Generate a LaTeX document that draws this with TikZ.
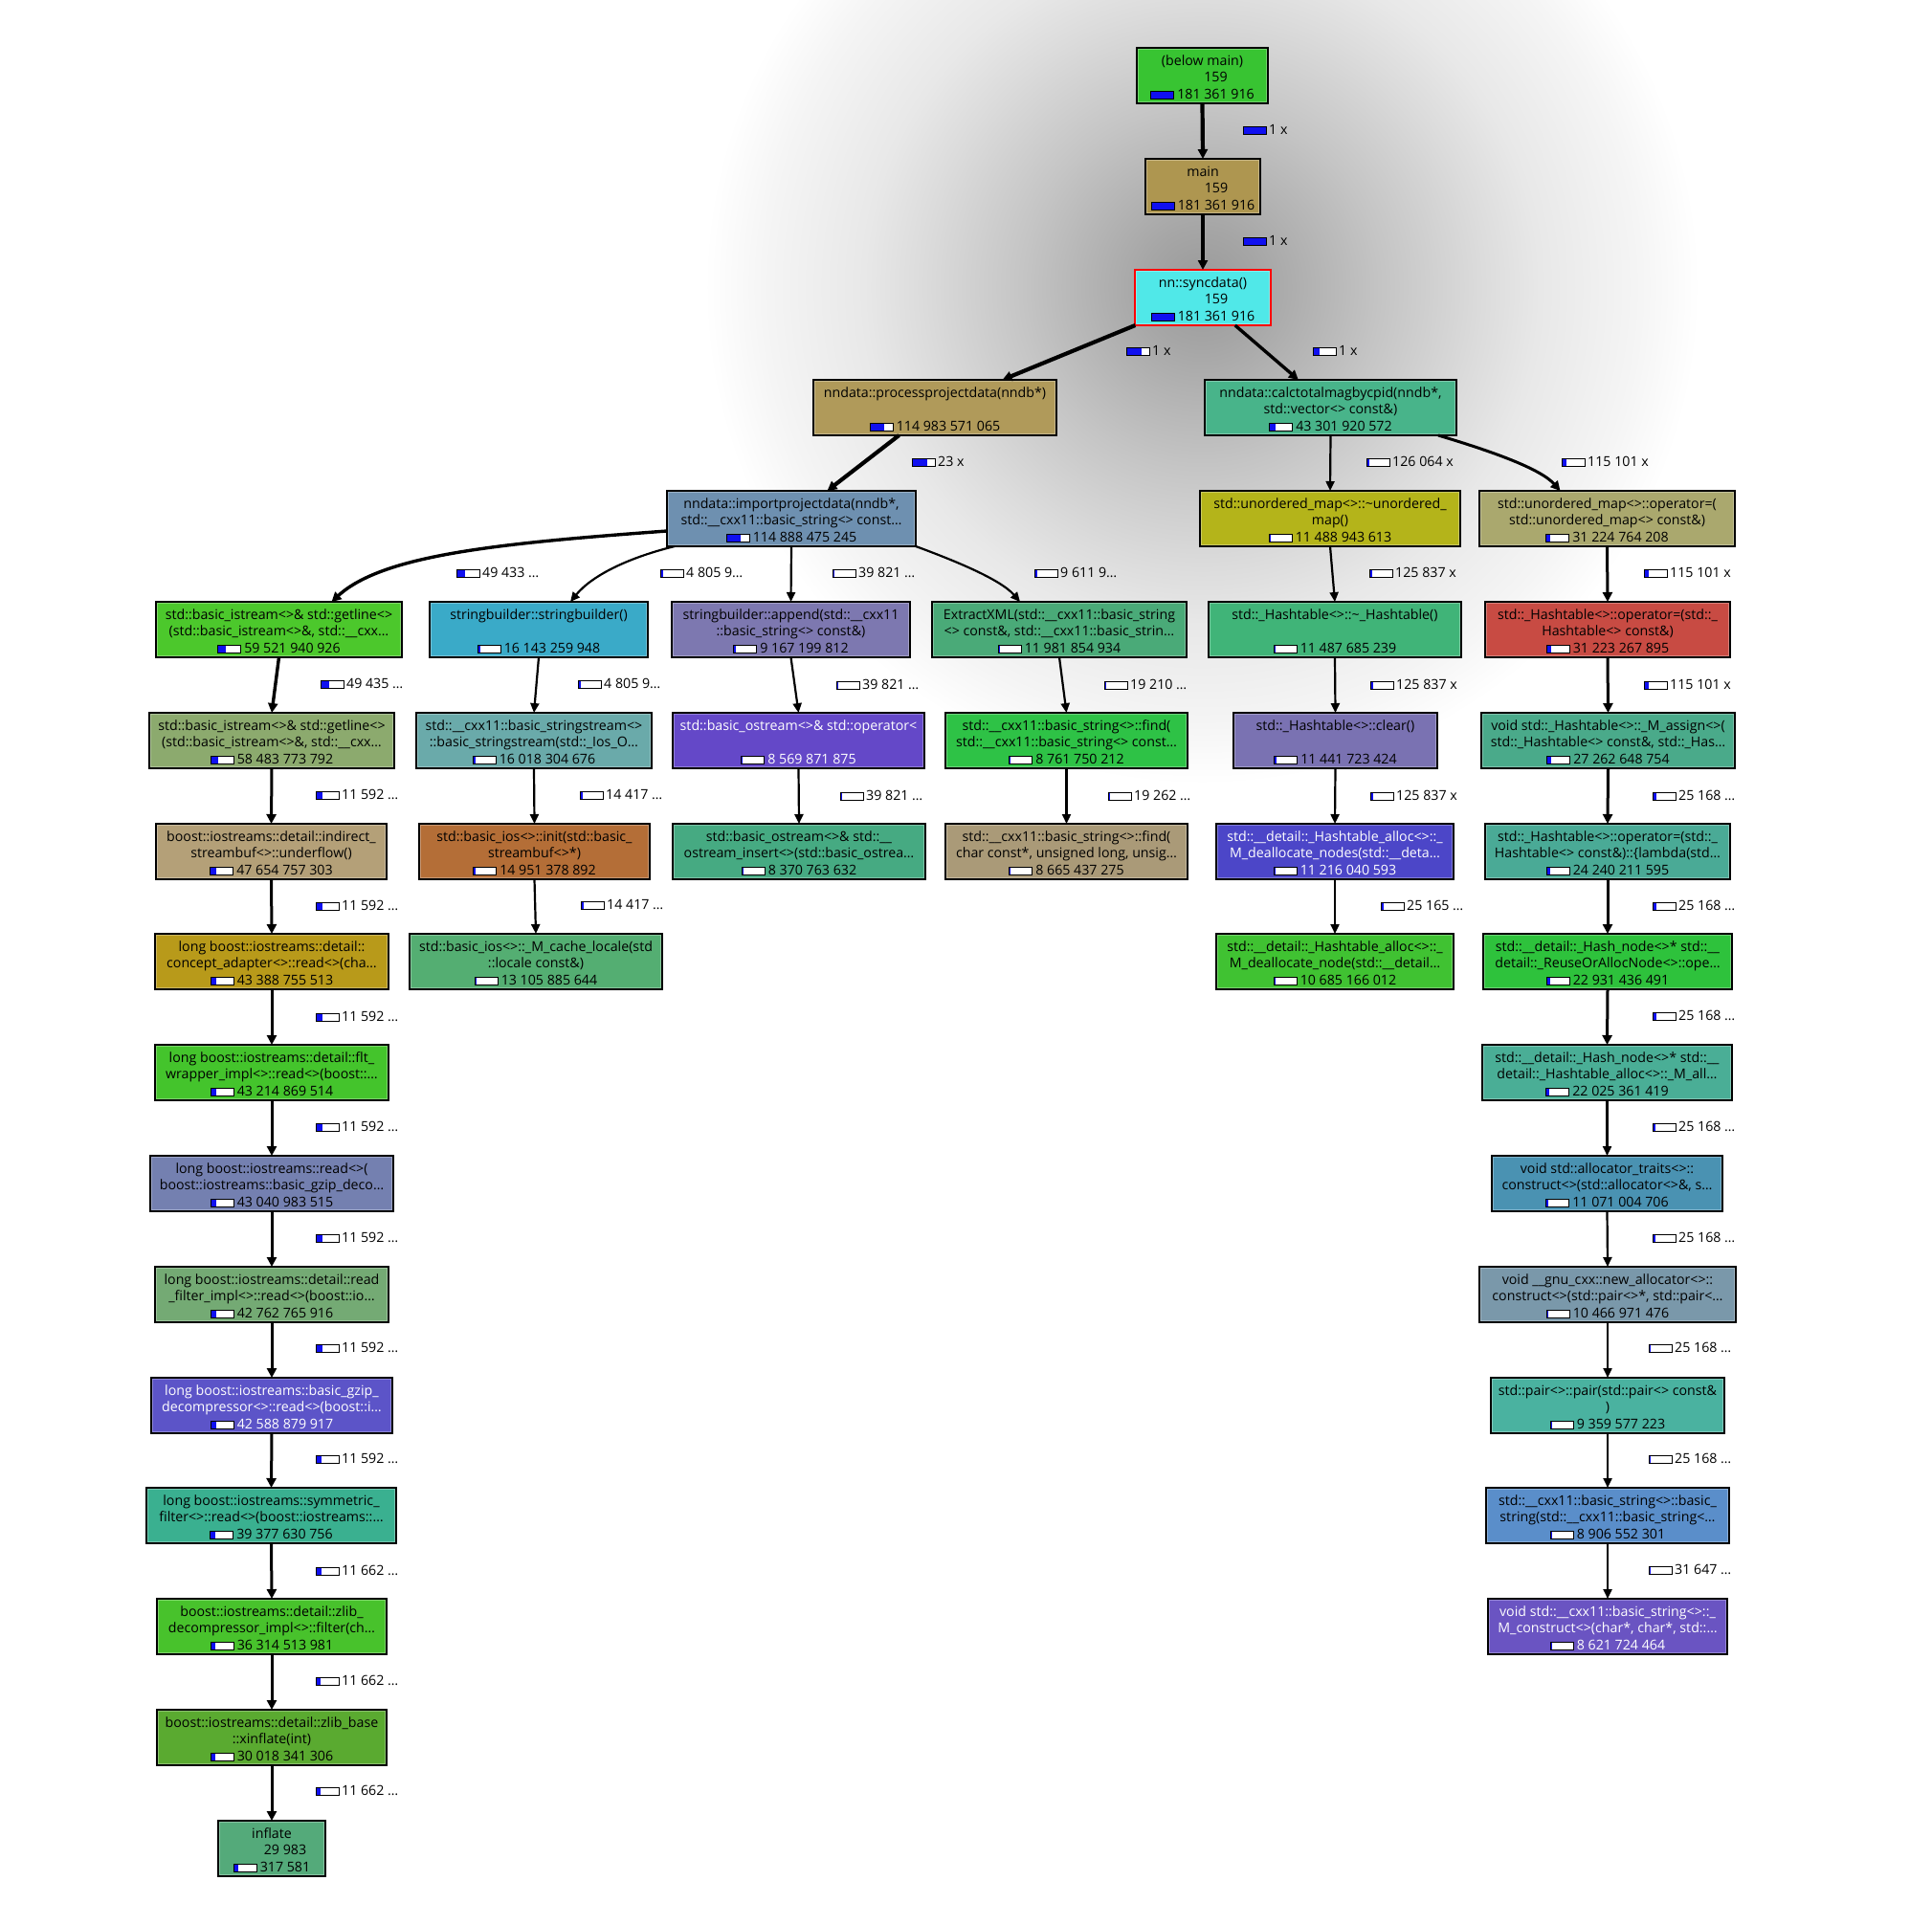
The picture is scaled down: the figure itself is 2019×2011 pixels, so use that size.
\documentclass[tikz,border=0pt]{standalone}
\usepackage{fontspec}
\setmainfont{Open Sans}
\usetikzlibrary{arrows.meta}

% node fill colours
\definecolor{cBelowMain}{HTML}{38C432}
\definecolor{cMain}{HTML}{AE9650}
\definecolor{cSync}{HTML}{50E8E8}
\definecolor{cProcess}{HTML}{B09A5A}
\definecolor{cCalc}{HTML}{48B48A}
\definecolor{cImport}{HTML}{6E90B0}
\definecolor{cUmapDtor}{HTML}{B4B41A}
\definecolor{cUmapAssign}{HTML}{AAA86E}
\definecolor{cGetline}{HTML}{4CC82C}
\definecolor{cSbCtor}{HTML}{3AAAC8}
\definecolor{cSbAppend}{HTML}{7D78B0}
\definecolor{cExtract}{HTML}{4AAA78}
\definecolor{cHtDtor}{HTML}{40B478}
\definecolor{cHtAssign}{HTML}{C84B43}
\definecolor{cGetlineB}{HTML}{8CAA6E}
\definecolor{cSstream}{HTML}{6AAAAA}
\definecolor{cOstreamOp}{HTML}{6448C8}
\definecolor{cFindA}{HTML}{2EC246}
\definecolor{cHtClear}{HTML}{7A72B2}
\definecolor{cMAssign}{HTML}{4AAA8A}
\definecolor{cIndirect}{HTML}{B4A078}
\definecolor{cIosInit}{HTML}{B46E37}
\definecolor{cOsInsert}{HTML}{46AA82}
\definecolor{cFindB}{HTML}{AA9A78}
\definecolor{cDeallocNodes}{HTML}{4C46C8}
\definecolor{cLambda}{HTML}{4AAA96}
\definecolor{cConcept}{HTML}{B89A1A}
\definecolor{cCacheLocale}{HTML}{54AE72}
\definecolor{cDeallocNode}{HTML}{40C232}
\definecolor{cReuse}{HTML}{2EC23C}
\definecolor{cFlt}{HTML}{44C42C}
\definecolor{cMAll}{HTML}{4AAE96}
\definecolor{cGzipRead}{HTML}{7480B0}
\definecolor{cAllocTraits}{HTML}{4A92B2}
\definecolor{cReadFilter}{HTML}{74AA74}
\definecolor{cNewAlloc}{HTML}{7A98AA}
\definecolor{cGzipDecomp}{HTML}{5C54C8}
\definecolor{cPair}{HTML}{4AB2A0}
\definecolor{cSymFilter}{HTML}{3AB090}
\definecolor{cStrCtor}{HTML}{5A8ECA}
\definecolor{cZlibDecomp}{HTML}{48C22C}
\definecolor{cMConstruct}{HTML}{6A54C2}
\definecolor{cXinflate}{HTML}{5AAA30}
\definecolor{cInflate}{HTML}{54AA7A}
\definecolor{barblue}{HTML}{1010F0}

% grey halo behind the upper part of the graph (path box maps to +-25bp)
\pgfdeclareradialshading{halo}{\pgfpoint{0bp}{0bp}}{%
  color(0bp)=(black!40); color(3bp)=(black!35); color(9bp)=(black!23);
  color(14bp)=(black!14); color(17bp)=(black!9); color(22bp)=(black!4);
  color(25bp)=(white); color(50bp)=(white)}

% cost bar: #1 = blue part of a 23pt wide bar, always with a black frame
\newcommand\cgbar[1]{{\color{black}\fboxsep0pt\fboxrule1pt\raisebox{0.5pt}{\fbox{%
  \textcolor{barblue}{\rule{#1pt}{7pt}}\textcolor{white}{\rule{\dimexpr23pt-#1pt\relax}{7pt}}}}}}
\newcommand\cgnum[2]{\cgbar{#1}\hspace{3pt}#2}
\newcommand\cgcalls[1]{\phantom{\cgbar{0}}\hspace{3pt}#1}
\newcommand\cgframe{black}

% function box: name, left, right, top, fill, text colour, line 1, line 2, cost line
\newcommand\cgnode[9]{%
  \node[cgbox, draw=\cgframe, fill=#5, minimum width={(#3-#2)*1pt}] (#1) at (#2,#4) {};
  \draw[cgbevel] ([shift={(1.6pt,-1.6pt)}]#1.north west) rectangle ([shift={(-1.6pt,1.6pt)}]#1.south east);
  \node[cgtext, text=#6] (#1-1) at ([yshift=-18pt]#1.north) {#7};
  \if\relax\detokenize{#8}\relax\else
    \node[cgtext, text=#6] (#1-2) at ([yshift=-35.5pt]#1.north) {#8};
  \fi
  \node[cgtext, text=#6] (#1-3) at ([yshift=-53pt]#1.north) {#9};
}
% call label: name, x of bar, y of bar centre, blue part, text
\newcommand\cglabel[5]{\node[cglab] (#1) at (#2,#3) {\cgbar{#4}\hspace{2pt}#5};}

\tikzset{
  cgbox/.style={line width=1.2pt, inner sep=0pt, outer sep=0pt,
    anchor=north west, minimum height=58pt},
  cgbevel/.style={draw=white, draw opacity=0.3, line width=1pt},
  cgtext/.style={inner sep=0pt, anchor=base, font=\fontsize{14.2}{17}\selectfont},
  cglab/.style={inner sep=0pt, anchor=west, text height=10pt, text depth=0pt,
    font=\fontsize{14.2}{17}\selectfont},
  call/.style={draw=black, -{Triangle[length=10pt,width=10pt]}},
  wA/.style={call, line width=4.2pt},
  wB/.style={call, line width=3.4pt},
  wC/.style={call, line width=3pt},
  wD/.style={call, line width=2.2pt, -{Triangle[length=10pt,width=9pt]}},
}

\begin{document}
\begin{tikzpicture}[x=1pt,y=-1pt]
\useasboundingbox (0,0) rectangle (2019,2011);
\fill[white] (0,0) rectangle (2019,2011);
\shade[shading=halo] (1256,300) circle (520);

% ---------- upper chain ----------
\cgnode{belowmain}{1188}{1325}{50}{cBelowMain}{black}{(below main)}{\cgcalls{159}}{\cgnum{23}{181 361 916}}
\cgnode{mainfn}{1197}{1317}{166}{cMain}{black}{main}{\cgcalls{159}}{\cgnum{23}{181 361 916}}
\renewcommand\cgframe{red}
\cgnode{syncdata}{1186}{1328}{282}{cSync}{black}{nn::syncdata()}{\cgcalls{159}}{\cgnum{23}{181 361 916}}
\renewcommand\cgframe{black}
\cgnode{process}{850}{1104}{397}{cProcess}{black}{nndata::processprojectdata(nndb*)}{}{\cgnum{14.6}{114 983 571 065}}
\cgnode{calc}{1259}{1522}{397}{cCalc}{black}{nndata::calctotalmagbycpid(nndb*,}{std::vector<> const\&)}{\cgnum{5.5}{43 301 920 572}}
\cgnode{import}{697}{957}{513}{cImport}{black}{nndata::importprojectdata(nndb*,}{std::\_\_cxx11::basic\_string<> const…}{\cgnum{14.6}{114 888 475 245}}
\cgnode{umapdtor}{1254}{1526}{513}{cUmapDtor}{black}{std::unordered\_map<>::\textasciitilde unordered\_}{map()}{\cgnum{1.45}{11 488 943 613}}
\cgnode{umapassign}{1546}{1813}{513}{cUmapAssign}{black}{std::unordered\_map<>::operator=(}{std::unordered\_map<> const\&)}{\cgnum{4}{31 224 764 208}}

% ---------- row 5 ----------
\cgnode{getline}{163}{420}{629}{cGetline}{black}{std::basic\_istream<>\& std::getline<>}{(std::basic\_istream<>\&, std::\_\_cxx…}{\cgnum{7.5}{59 521 940 926}}
\cgnode{sbctor}{449}{677}{629}{cSbCtor}{black}{stringbuilder::stringbuilder()}{}{\cgnum{2}{16 143 259 948}}
\cgnode{sbappend}{702}{951}{629}{cSbAppend}{black}{stringbuilder::append(std::\_\_cxx11}{::basic\_string<> const\&)}{\cgnum{1.2}{9 167 199 812}}
\cgnode{extract}{974}{1240}{629}{cExtract}{black}{ExtractXML(std::\_\_cxx11::basic\_string}{<> const\&, std::\_\_cxx11::basic\_strin…}{\cgnum{1.5}{11 981 854 934}}
\cgnode{htdtor}{1263}{1527}{629}{cHtDtor}{black}{std::\_Hashtable<>::\textasciitilde\_Hashtable()}{}{\cgnum{1.45}{11 487 685 239}}
\cgnode{htassign}{1552}{1808}{629}{cHtAssign}{black}{std::\_Hashtable<>::operator=(std::\_}{Hashtable<> const\&)}{\cgnum{4}{31 223 267 895}}

% ---------- row 6 ----------
\cgnode{getlineb}{156}{412}{745}{cGetlineB}{black}{std::basic\_istream<>\& std::getline<>}{(std::basic\_istream<>\&, std::\_\_cxx…}{\cgnum{7.4}{58 483 773 792}}
\cgnode{sstream}{435}{681}{745}{cSstream}{black}{std::\_\_cxx11::basic\_stringstream<>}{::basic\_stringstream(std::\_Ios\_O…}{\cgnum{2}{16 018 304 676}}
\cgnode{ostreamop}{703}{966}{745}{cOstreamOp}{white}{std::basic\_ostream<>\& std::operator<}{}{\cgnum{1.1}{8 569 871 875}}
\cgnode{finda}{988}{1241}{745}{cFindA}{black}{std::\_\_cxx11::basic\_string<>::find(}{std::\_\_cxx11::basic\_string<> const…}{\cgnum{1.1}{8 761 750 212}}
\cgnode{htclear}{1289}{1502}{745}{cHtClear}{black}{std::\_Hashtable<>::clear()}{}{\cgnum{1.45}{11 441 723 424}}
\cgnode{massign}{1548}{1813}{745}{cMAssign}{black}{void std::\_Hashtable<>::\_M\_assign<>(}{std::\_Hashtable<> const\&, std::\_Has…}{\cgnum{3.45}{27 262 648 754}}

% ---------- row 7 ----------
\cgnode{indirect}{163}{404}{861}{cIndirect}{black}{boost::iostreams::detail::indirect\_}{streambuf<>::underflow()}{\cgnum{6}{47 654 757 303}}
\cgnode{iosinit}{438}{679}{861}{cIosInit}{black}{std::basic\_ios<>::init(std::basic\_}{streambuf<>*)}{\cgnum{1.9}{14 951 378 892}}
\cgnode{osinsert}{703}{967}{861}{cOsInsert}{black}{std::basic\_ostream<>\& std::\_\_}{ostream\_insert<>(std::basic\_ostrea…}{\cgnum{1.05}{8 370 763 632}}
\cgnode{findb}{988}{1241}{861}{cFindB}{black}{std::\_\_cxx11::basic\_string<>::find(}{char const*, unsigned long, unsig…}{\cgnum{1.1}{8 665 437 275}}
\cgnode{deallocnodes}{1271}{1519}{861}{cDeallocNodes}{white}{std::\_\_detail::\_Hashtable\_alloc<>::\_}{M\_deallocate\_nodes(std::\_\_deta…}{\cgnum{1.4}{11 216 040 593}}
\cgnode{lambda}{1552}{1808}{861}{cLambda}{black}{std::\_Hashtable<>::operator=(std::\_}{Hashtable<> const\&)::\{lambda(std…}{\cgnum{3.1}{24 240 211 595}}

% ---------- row 8 ----------
\cgnode{concept}{162}{406}{976}{cConcept}{black}{long boost::iostreams::detail::}{concept\_adapter<>::read<>(cha…}{\cgnum{5.5}{43 388 755 513}}
\cgnode{cachelocale}{428}{692}{976}{cCacheLocale}{black}{std::basic\_ios<>::\_M\_cache\_locale(std}{::locale const\&)}{\cgnum{1.65}{13 105 885 644}}
\cgnode{deallocnode}{1271}{1519}{976}{cDeallocNode}{black}{std::\_\_detail::\_Hashtable\_alloc<>::\_}{M\_deallocate\_node(std::\_\_detail…}{\cgnum{1.35}{10 685 166 012}}
\cgnode{reuse}{1550}{1810}{976}{cReuse}{black}{std::\_\_detail::\_Hash\_node<>* std::\_\_}{detail::\_ReuseOrAllocNode<>::ope…}{\cgnum{2.9}{22 931 436 491}}

% ---------- rows 9 to 16 ----------
\cgnode{flt}{162}{406}{1092}{cFlt}{black}{long boost::iostreams::detail::flt\_}{wrapper\_impl<>::read<>(boost::…}{\cgnum{5.5}{43 214 869 514}}
\cgnode{mall}{1549}{1810}{1092}{cMAll}{black}{std::\_\_detail::\_Hash\_node<>* std::\_\_}{detail::\_Hashtable\_alloc<>::\_M\_all…}{\cgnum{2.8}{22 025 361 419}}
\cgnode{gzipread}{157}{411}{1208}{cGzipRead}{black}{long boost::iostreams::read<>(}{boost::iostreams::basic\_gzip\_deco…}{\cgnum{5.45}{43 040 983 515}}
\cgnode{alloctraits}{1559}{1800}{1208}{cAllocTraits}{black}{void std::allocator\_traits<>::}{construct<>(std::allocator<>\&, s…}{\cgnum{1.4}{11 071 004 706}}
\cgnode{readfilter}{162}{406}{1324}{cReadFilter}{black}{long boost::iostreams::detail::read}{\_filter\_impl<>::read<>(boost::io…}{\cgnum{5.4}{42 762 765 916}}
\cgnode{newalloc}{1546}{1814}{1324}{cNewAlloc}{black}{void \_\_gnu\_cxx::new\_allocator<>::}{construct<>(std::pair<>*, std::pair<…}{\cgnum{1.3}{10 466 971 476}}
\cgnode{gzipdecomp}{158}{410}{1440}{cGzipDecomp}{white}{long boost::iostreams::basic\_gzip\_}{decompressor<>::read<>(boost::i…}{\cgnum{5.4}{42 588 879 917}}
\cgnode{pairctor}{1558}{1802}{1440}{cPair}{black}{std::pair<>::pair(std::pair<> const\&}{)}{\cgnum{1.2}{9 359 577 223}}
\cgnode{symfilter}{153}{414}{1555}{cSymFilter}{black}{long boost::iostreams::symmetric\_}{filter<>::read<>(boost::iostreams::…}{\cgnum{5}{39 377 630 756}}
\cgnode{strctor}{1553}{1807}{1555}{cStrCtor}{black}{std::\_\_cxx11::basic\_string<>::basic\_}{string(std::\_\_cxx11::basic\_string<…}{\cgnum{1.1}{8 906 552 301}}
\cgnode{zlibdecomp}{164}{404}{1671}{cZlibDecomp}{black}{boost::iostreams::detail::zlib\_}{decompressor\_impl<>::filter(ch…}{\cgnum{4.6}{36 314 513 981}}
\cgnode{mconstruct}{1555}{1805}{1671}{cMConstruct}{white}{void std::\_\_cxx11::basic\_string<>::\_}{M\_construct<>(char*, char*, std::…}{\cgnum{1.1}{8 621 724 464}}
\cgnode{xinflate}{164}{404}{1787}{cXinflate}{black}{boost::iostreams::detail::zlib\_base}{::xinflate(int)}{\cgnum{3.8}{30 018 341 306}}
\cgnode{inflate}{228}{340}{1903}{cInflate}{black}{inflate}{\cgcalls{29 983}}{\cgnum{3.8}{317 581}}

% ---------- calls ----------
\draw[wA] (belowmain.south) -- (mainfn.north);
\draw[wA] (mainfn.south) -- (syncdata.north);
\draw[wA] (syncdata) -- (process);
\draw[wB] (syncdata) -- (calc);
\draw[wA] (process) -- (import);
\draw[wD] (calc.south) -- (umapdtor.north);
\draw[wC] ([xshift=-19pt]calc.south east) .. controls (1560,472) and (1610,490) .. ([xshift=-49pt]umapassign.north);
\draw[wB] ([yshift=-13pt]import.west) .. controls (520,568) and (400,580) .. ([xshift=55pt]getline.north);
\draw[wD] ([xshift=8pt]import.south west) .. controls (660,582) and (620,600) .. ([xshift=33pt]sbctor.north);
\draw[wD] (import.south) -- (sbappend.north);
\draw[wD] (import.south east) .. controls (995,585) and (1045,605) .. ([xshift=-41pt]extract.north);
\draw[wD] (umapdtor.south) -- (htdtor.north);
\draw[wC] (umapassign.south) -- (htassign.north);

\draw[wB] (getline.south) -- (getlineb.north);
\draw[wD] (sbctor.south) -- (sstream.north);
\draw[wD] (sbappend.south) -- (ostreamop.north);
\draw[wD] (extract.south) -- (finda.north);
\draw[wD] (htdtor.south) -- (htclear.north);
\draw[wC] (htassign.south) -- (massign.north);

\draw[wC] (getlineb.south) -- (indirect.north);
\draw[wD] (sstream.south) -- (iosinit.north);
\draw[wD] (ostreamop.south) -- (osinsert.north);
\draw[wD] (finda.south) -- (findb.north);
\draw[wD] (htclear.south) -- (deallocnodes.north);
\draw[wC] (massign.south) -- (lambda.north);

\draw[wC] (indirect.south) -- (concept.north);
\draw[wD] (iosinit.south) -- (cachelocale.north);
\draw[wD] (deallocnodes.south) -- (deallocnode.north);
\draw[wC] (lambda.south) -- (reuse.north);

\draw[wC] (concept.south) -- (flt.north);
\draw[wC] (reuse.south) -- (mall.north);
\draw[wC] (flt.south) -- (gzipread.north);
\draw[wD] (mall.south) -- (alloctraits.north);
\draw[wC] (gzipread.south) -- (readfilter.north);
\draw[wD] (alloctraits.south) -- (newalloc.north);
\draw[wC] (readfilter.south) -- (gzipdecomp.north);
\draw[wD] (newalloc.south) -- (pairctor.north);
\draw[wC] (gzipdecomp.south) -- (symfilter.north);
\draw[wD] (pairctor.south) -- (strctor.north);
\draw[wC] (symfilter.south) -- (zlibdecomp.north);
\draw[wD] (strctor.south) -- (mconstruct.north);
\draw[wC] (zlibdecomp.south) -- (xinflate.north);
\draw[wC] (xinflate.south) -- (inflate.north);

% ---------- call counts ----------
\cglabel{l-main}{1299}{135}{23}{1 x}
\cglabel{l-sync}{1299}{251}{23}{1 x}
\cglabel{l-process}{1177}{366}{14.6}{1 x}
\cglabel{l-calc}{1372}{366}{5.5}{1 x}
\cglabel{l-import}{953}{482}{14.6}{23 x}
\cglabel{l-umapdtor}{1428}{482}{1.45}{126 064 x}
\cglabel{l-umapassign}{1632}{482}{4}{115 101 x}
\cglabel{l-getline}{477}{598}{7.5}{49 433 …}
\cglabel{l-sbctor}{690}{598}{2}{4 805 9…}
\cglabel{l-sbappend}{870}{598}{1.2}{39 821 …}
\cglabel{l-extract}{1081}{598}{1.5}{9 611 9…}
\cglabel{l-htdtor}{1431}{598}{1.45}{125 837 x}
\cglabel{l-htassign}{1718}{598}{4}{115 101 x}
\cglabel{l-getlineb}{335}{714}{7.4}{49 435 …}
\cglabel{l-sstream}{604}{714}{2}{4 805 9…}
\cglabel{l-ostreamop}{874}{715}{1.1}{39 821 …}
\cglabel{l-finda}{1154}{715}{1.1}{19 210 …}
\cglabel{l-htclear}{1432}{715}{1.45}{125 837 x}
\cglabel{l-massign}{1718}{715}{3.45}{115 101 x}
\cglabel{l-indirect}{330}{830}{6}{11 592 …}
\cglabel{l-iosinit}{606}{830}{1.9}{14 417 …}
\cglabel{l-osinsert}{878}{831}{1.05}{39 821 …}
\cglabel{l-findb}{1158}{831}{1.1}{19 262 …}
\cglabel{l-deallocnodes}{1432}{831}{1.4}{125 837 x}
\cglabel{l-lambda}{1727}{831}{3.1}{25 168 …}
\cglabel{l-concept}{330}{946}{5.5}{11 592 …}
\cglabel{l-cachelocale}{607}{945}{1.65}{14 417 …}
\cglabel{l-deallocnode}{1443}{946}{1.35}{25 165 …}
\cglabel{l-reuse}{1727}{946}{2.9}{25 168 …}
\cglabel{l-flt}{330}{1062}{5.5}{11 592 …}
\cglabel{l-mall}{1727}{1061}{2.8}{25 168 …}
\cglabel{l-gzipread}{330}{1177}{5.45}{11 592 …}
\cglabel{l-alloctraits}{1727}{1177}{1.4}{25 168 …}
\cglabel{l-readfilter}{330}{1293}{5.4}{11 592 …}
\cglabel{l-newalloc}{1727}{1293}{1.3}{25 168 …}
\cglabel{l-gzipdecomp}{330}{1408}{5.4}{11 592 …}
\cglabel{l-pairctor}{1723}{1408}{1.2}{25 168 …}
\cglabel{l-symfilter}{330}{1524}{5}{11 592 …}
\cglabel{l-strctor}{1723}{1524}{1.1}{25 168 …}
\cglabel{l-zlibdecomp}{330}{1641}{4.6}{11 662 …}
\cglabel{l-mconstruct}{1723}{1640}{1.1}{31 647 …}
\cglabel{l-xinflate}{330}{1756}{3.8}{11 662 …}
\cglabel{l-inflate}{330}{1871}{3.8}{11 662 …}
\end{tikzpicture}
\end{document}
